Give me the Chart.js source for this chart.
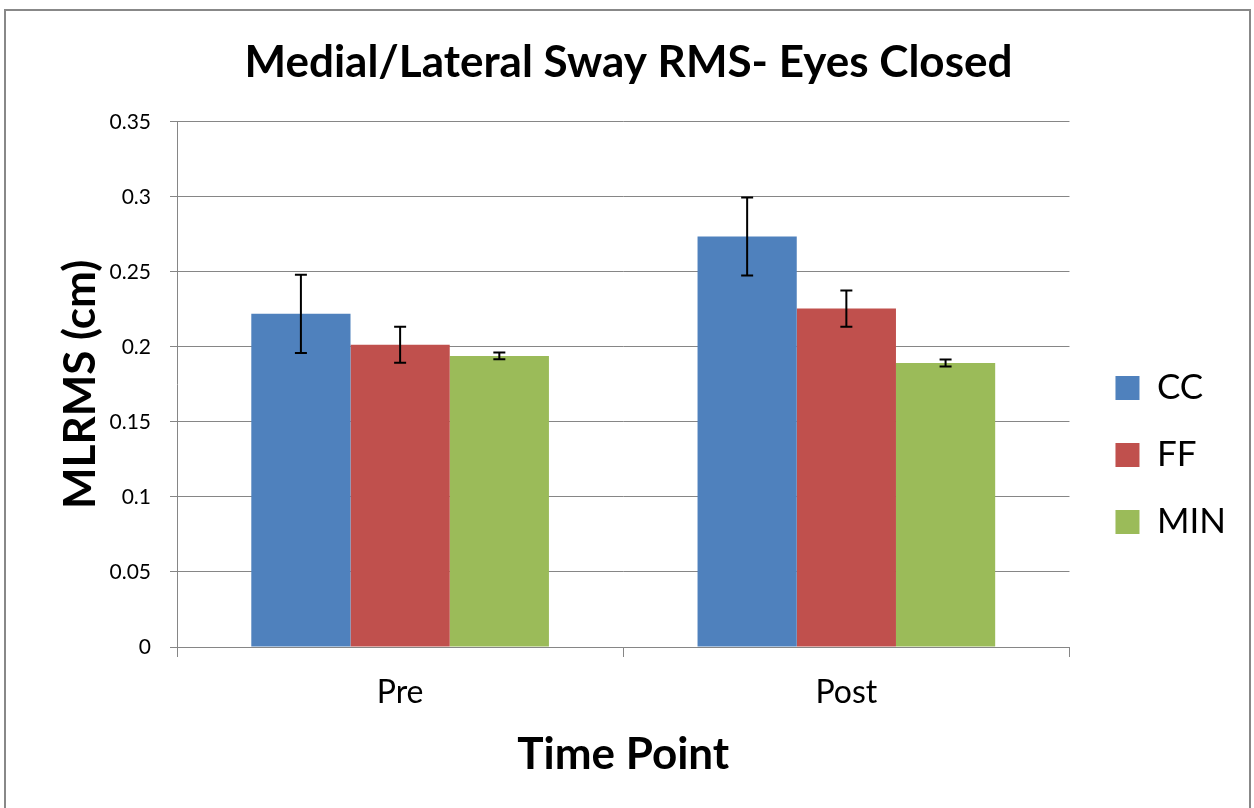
<!DOCTYPE html>
<html>
<head>
<meta charset="utf-8">
<style>
  html, body { margin: 0; padding: 0; background: #fff; }
  #wrap { width: 1254px; height: 808px; }
</style>
</head>
<body>
<div id="wrap">
  <canvas id="sway"></canvas>
</div>

<script src="https://cdn.jsdelivr.net/npm/chart.js"></script>

<script>
  const categories = ['Pre', 'Post'];
  const ccValues = [0.222, 0.2735];
  const ffValues = [0.2015, 0.2255];
  const minValues = [0.194, 0.1893];
  const ccErrors = [0.026, 0.026];
  const ffErrors = [0.012, 0.012];
  const minErrors = [0.0023, 0.0023];
  const yTickStep = 0.05;
  const yMax = 0.35;

  const FONT = 'Lato, "Open Sans", sans-serif';

  // outer frame + white background
  const frame = {
    id: 'frame',
    beforeDraw(chart) {
      const c = chart.ctx;
      c.save();
      c.fillStyle = '#fff';
      c.fillRect(0, 0, chart.width, chart.height);
      c.strokeStyle = '#888';
      c.lineWidth = 2;
      c.strokeRect(5, 10, chart.width - 9, chart.height);
      c.restore();
    }
  };

  // nudge the legend a little to the right of the plot
  const legendShift = {
    id: 'legendShift',
    afterLayout(chart) {
      chart.legend.left += 14;
      chart.legend.right += 14;
    }
  };

  // error bars drawn from each dataset's errors array
  const errorBars = {
    id: 'errorBars',
    afterDatasetsDraw(chart) {
      const c = chart.ctx;
      const y = chart.scales.y;
      c.save();
      c.strokeStyle = '#000';
      c.lineWidth = 2;
      chart.data.datasets.forEach((ds, i) => {
        chart.getDatasetMeta(i).data.forEach((bar, j) => {
          const v = ds.data[j], e = ds.errors[j];
          const top = y.getPixelForValue(v + e);
          const bot = y.getPixelForValue(v - e);
          const x = bar.x;
          c.beginPath();
          c.moveTo(x, top); c.lineTo(x, bot);
          c.moveTo(x - 6, top); c.lineTo(x + 6, top);
          c.moveTo(x - 6, bot); c.lineTo(x + 6, bot);
          c.stroke();
        });
      });
      c.restore();
    }
  };

  const ctx = document.getElementById('sway');

  new Chart(ctx, {
    type: 'bar',
    data: {
      labels: categories,
      datasets: [
        { label: 'CC', data: ccValues, errors: ccErrors, backgroundColor: '#4F81BD' },
        { label: 'FF', data: ffValues, errors: ffErrors, backgroundColor: '#C0504D' },
        { label: 'MIN', data: minValues, errors: minErrors, backgroundColor: '#9BBB59' }
      ]
    },
    options: {
      responsive: true,
      maintainAspectRatio: false,
      animation: false,
      layout: { padding: { left: 35, right: 32, top: 0, bottom: 0 } },
      datasets: {
        bar: { categoryPercentage: 0.667, barPercentage: 1.0 }
      },
      plugins: {
        title: {
          display: true,
          text: 'Medial/Lateral Sway RMS- Eyes Closed',
          color: '#000',
          font: { family: FONT, size: 44, weight: 'bold' },
          padding: { top: 36, bottom: 33 }
        },
        legend: {
          position: 'right',
          title: { display: true, text: ' ', padding: { top: 0, bottom: 90 }, font: { size: 10 } },
          labels: {
            color: '#000',
            boxWidth: 24,
            boxHeight: 24,
            padding: 32,
            font: { family: FONT, size: 35 }
          }
        },
        tooltip: { enabled: false }
      },
      scales: {
        x: {
          afterFit(scale) { scale.height = 161; },
          grid: {
            offset: true,
            drawOnChartArea: false,
            color: '#868686',
            tickLength: 10
          },
          border: { color: '#868686' },
          ticks: {
            color: '#000',
            padding: 16,
            font: { family: FONT, size: 32 }
          },
          title: {
            display: true,
            text: 'Time Point',
            color: '#000',
            font: { family: FONT, size: 44, weight: 'bold' },
            padding: { top: 0, bottom: 27 }
          }
        },
        y: {
          min: 0,
          max: yMax,
          afterFit(scale) { scale.width = 142; },
          grid: {
            color: '#868686',
            tickLength: 7
          },
          border: { color: '#868686' },
          ticks: {
            stepSize: yTickStep,
            color: '#000',
            padding: 19,
            font: { family: FONT, size: 21 },
            callback: v => String(+v.toFixed(2))
          },
          title: {
            display: true,
            text: 'MLRMS (cm)',
            color: '#000',
            font: { family: FONT, size: 44, weight: 'bold' },
            padding: { top: 19, bottom: 0 }
          }
        }
      }
    },
    plugins: [frame, legendShift, errorBars]
  });
</script>
</body>
</html>
